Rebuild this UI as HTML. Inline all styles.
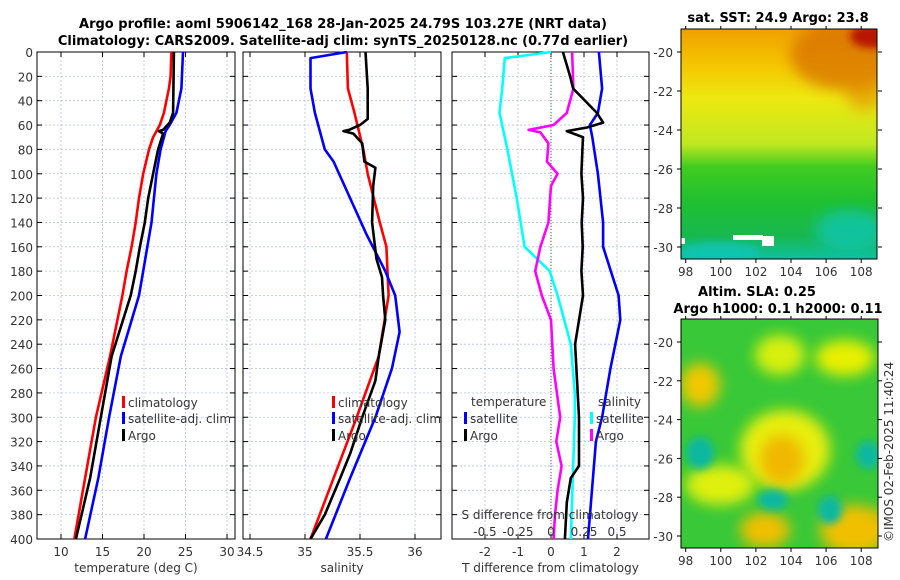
<!DOCTYPE html>
<html><head><meta charset="utf-8"><style>
body{margin:0;background:#fff;}
svg{display:block;font-family:"DejaVu Sans","Liberation Sans",sans-serif;}
.tk{font-size:12px;fill:#333;}
.tt{font-size:13px;font-weight:bold;fill:#000;}
</style></head><body>
<svg id="c" width="900" height="580" viewBox="0 0 900 580" xmlns="http://www.w3.org/2000/svg">
<defs>
<filter id="bl" x="-50%" y="-50%" width="200%" height="200%"><feGaussianBlur stdDeviation="7"/></filter>
<filter id="bl2" x="-50%" y="-50%" width="200%" height="200%"><feGaussianBlur stdDeviation="4"/></filter>
<linearGradient id="sstg" x1="0" y1="0" x2="0" y2="1">
<stop offset="0" stop-color="#f0a000"/><stop offset="0.15" stop-color="#f5c400"/><stop offset="0.3" stop-color="#eee810"/>
<stop offset="0.5" stop-color="#c0e820"/><stop offset="0.6" stop-color="#40cc20"/><stop offset="0.75" stop-color="#20c030"/>
<stop offset="0.9" stop-color="#18b850"/><stop offset="1" stop-color="#10c0a0"/></linearGradient>
<clipPath id="cm1"><rect x="681" y="29" width="196" height="230"/></clipPath>
<clipPath id="cm2"><rect x="681" y="319" width="197" height="229"/></clipPath>
</defs>
<text class="tt" x="343" y="28" text-anchor="middle">Argo profile: aoml 5906142_168 28-Jan-2025 24.79S 103.27E (NRT data)</text>
<text class="tt" x="343" y="45" text-anchor="middle">Climatology: CARS2009. Satellite-adj clim: synTS_20250128.nc (0.77d earlier)</text>
<g id="g"></g>
<!-- SST map -->
<g clip-path="url(#cm1)">
<rect x="681" y="29" width="196" height="230" fill="url(#sstg)"/>
<ellipse cx="845" cy="55" rx="55" ry="35" fill="#d87000" opacity="0.75" filter="url(#bl)"/>
<ellipse cx="872" cy="36" rx="22" ry="12" fill="#b81800" filter="url(#bl2)"/>
<ellipse cx="865" cy="90" rx="20" ry="20" fill="#e08800" opacity="0.6" filter="url(#bl)"/>
<ellipse cx="850" cy="230" rx="35" ry="20" fill="#10c8c0" opacity="0.7" filter="url(#bl)"/>
<ellipse cx="720" cy="252" rx="40" ry="10" fill="#10c8c0" opacity="0.7" filter="url(#bl2)"/>
<rect x="733" y="235" width="30" height="5" fill="#fff"/><rect x="762" y="236" width="12" height="10" fill="#fff"/>
<rect x="680" y="238" width="5" height="6" fill="#fff"/>
</g>
<rect x="681" y="29" width="196" height="230" fill="none" stroke="#000"/>
<text class="tt" x="778" y="22" text-anchor="middle">sat. SST: 24.9 Argo: 23.8</text>
<!-- SLA map -->
<g clip-path="url(#cm2)">
<rect x="681" y="319" width="197" height="229" fill="#38c838"/>
<ellipse cx="780" cy="355" rx="25" ry="20" fill="#d8f010" filter="url(#bl)"/>
<ellipse cx="845" cy="358" rx="30" ry="18" fill="#e8f000" filter="url(#bl)"/>
<ellipse cx="700" cy="385" rx="20" ry="22" fill="#f0c800" filter="url(#bl)"/>
<ellipse cx="785" cy="450" rx="45" ry="40" fill="#e8ee10" filter="url(#bl)"/>
<ellipse cx="782" cy="460" rx="22" ry="25" fill="#f0b800" filter="url(#bl)"/>
<ellipse cx="720" cy="485" rx="35" ry="20" fill="#e0f010" filter="url(#bl)"/>
<ellipse cx="765" cy="530" rx="25" ry="18" fill="#f0c000" filter="url(#bl)"/>
<ellipse cx="855" cy="530" rx="35" ry="25" fill="#f0c000" filter="url(#bl)"/>
<ellipse cx="700" cy="453" rx="14" ry="16" fill="#10b8a0" filter="url(#bl2)"/>
<ellipse cx="868" cy="455" rx="12" ry="14" fill="#10b8a0" filter="url(#bl2)"/>
<ellipse cx="773" cy="500" rx="15" ry="10" fill="#10b8a0" filter="url(#bl2)"/>
<ellipse cx="830" cy="510" rx="12" ry="14" fill="#10b8a0" filter="url(#bl2)"/>
</g>
<rect x="681" y="319" width="197" height="229" fill="none" stroke="#000"/>
<text class="tt" x="757" y="296" text-anchor="middle">Altim. SLA: 0.25</text>
<text class="tt" x="778" y="313" text-anchor="middle">Argo h1000: 0.1 h2000: 0.11</text>
<text class="tk" x="0" y="0" transform="translate(893,542) rotate(-90)">©IMOS 02-Feb-2025 11:40:24</text>
</svg>
<script>
// ---- data ----
const depthTicks=[0,20,40,60,80,100,120,140,160,180,200,220,240,260,280,300,320,340,360,380,400];
const tTicks=[10,15,20,25,30];
const sTicks=[34.5,35,35.5,36];
const dtTicks=[-2,-1,0,1,2];
const dsTicks=[-0.5,-0.25,0,0.25,0.5];
const dsTickLabels=["-0.5","-0.25","0","0.25","0.5"];
const lonTicks=[98,100,102,104,106,108];
const latTicks=[-20,-22,-24,-26,-28,-30];
const argoLon=103.27, argoLat=-24.79;

const tClimD=[0,20,30,50,60,70,80,100,120,140,160,180,200,250,300,350,400];
const tClim=[23.3,23.2,23.0,22.4,21.9,21.1,20.6,19.9,19.4,19.0,18.5,17.9,17.4,15.9,14.2,12.9,11.6];
const tSatD=[0,30,50,60,65,80,100,140,180,200,250,300,350,400];
const tSat=[24.7,24.5,23.9,23.1,22.6,22.0,21.5,20.9,19.9,19.4,17.2,15.8,14.5,12.9];
const tArgoD=[0,50,58,64,65,67,80,100,120,140,160,180,200,250,300,350,400];
const tArgo=[23.6,23.5,23.1,22.3,21.8,22.3,21.7,21.1,20.5,20.1,19.5,19.0,18.4,16.1,14.8,13.5,11.8];

const sClimD=[0,30,50,80,100,140,160,180,200,250,300,350,400];
const sClim=[35.38,35.39,35.45,35.53,35.57,35.68,35.74,35.75,35.76,35.67,35.47,35.26,35.05];
const sSatD=[0,5,30,50,80,90,120,150,180,200,230,260,300,350,400];
const sSat=[35.38,35.05,35.05,35.09,35.18,35.26,35.41,35.56,35.73,35.82,35.86,35.79,35.64,35.41,35.19];
const sArgoD=[0,30,55,60,64,65,67,75,90,95,110,140,170,185,200,220,250,270,300,330,350,380,400];
const sArgo=[35.55,35.57,35.57,35.50,35.40,35.35,35.44,35.52,35.54,35.64,35.62,35.61,35.65,35.70,35.71,35.73,35.67,35.64,35.52,35.41,35.32,35.18,35.05];

const dtSatD=[0,30,50,60,70,100,140,160,200,220,260,300,320,400];
const dtSat=[1.45,1.55,1.42,1.18,1.25,1.42,1.58,1.58,2.05,2.1,1.8,1.55,1.36,1.12];
const dtArgoD=[0,20,30,50,58,62,65,70,80,100,120,140,160,180,200,240,300,340,350,370,400];
const dtArgo=[0.36,0.58,0.67,1.39,1.58,1.09,0.48,0.97,0.95,0.92,0.97,0.93,0.96,0.92,0.97,0.73,0.85,0.85,0.6,0.48,0.42];
const dsSatD=[0,5,30,50,80,120,160,180,200,240,280,300,400];
const dsSat=[0.0,-0.35,-0.37,-0.39,-0.33,-0.26,-0.2,-0.01,0.05,0.15,0.18,0.18,0.15];
const dsArgoD=[0,30,50,60,64,66,75,90,100,110,140,160,180,200,220,260,300,320,340,360,380,400];
const dsArgo=[0.16,0.17,0.12,0.02,-0.17,-0.08,-0.02,-0.03,0.05,0.0,-0.02,-0.08,-0.12,-0.07,0.0,0.02,0.07,0.04,0.08,0.05,0.03,0.02];

// ---- scales ----
const yD=d=>52+d*1.2175;
const xT=t=>61+(t-10)*8.3;
const xS=s=>305+(s-35)*110;
const xDT=v=>551+v*33;
const xDS=v=>551+v*132;
const mLon=l=>685.7+(l-98)*17.55;
const mLat1=l=>52+(-20-l)*19.5;
const mLat2=l=>342+(-20-l)*19.4;

const NS='http://www.w3.org/2000/svg';
const G=document.getElementById('g');
function mk(tag,at,parent){const e=document.createElementNS(NS,tag);for(const k in at)e.setAttribute(k,at[k]);(parent||G).appendChild(e);return e;}
function txt(s,x,y,anchor,cls,parent){const e=mk('text',{x:x,y:y,'text-anchor':anchor,class:cls},parent);e.textContent=s;return e;}

const panels=[
 {x0:37,x1:235,ticks:tTicks,sx:xT,lab:'temperature (deg C)',name:'temperature'},
 {x0:243,x1:441,ticks:sTicks,sx:xS,lab:'salinity',name:'salinity'},
 {x0:452,x1:649,ticks:dtTicks,sx:xDT,lab:'T difference from climatology',name:'difference'}
];
panels.forEach(p=>{
  depthTicks.forEach(d=>{
    const l=mk('line',{x1:p.x0,x2:p.x1,y1:yD(d),y2:yD(d),stroke:'#b8c4e8','stroke-width':0.8,'stroke-dasharray':'2,2'});
    
    
    const a=mk('line',{x1:p.x0,x2:p.x0+5,y1:yD(d),y2:yD(d),stroke:'#000'});
    
    
    const b=mk('line',{x1:p.x1-5,x2:p.x1,y1:yD(d),y2:yD(d),stroke:'#000'});
    
    
  });
  p.ticks.forEach(t=>{
    const x=p.sx(t);
    const l=mk('line',{x1:x,x2:x,y1:52,y2:539,stroke:'#b8c4e8','stroke-width':0.8,'stroke-dasharray':'2,2'});
    
    
    const a=mk('line',{x1:x,x2:x,y1:539,y2:534,stroke:'#000'});
    
    
    const b=mk('line',{x1:x,x2:x,y1:52,y2:57,stroke:'#000'});
    
    
    const lb=txt(String(t),x,556,'middle','tk');
    
    
  });
  const fr=mk('rect',{x:p.x0,y:52,width:p.x1-p.x0,height:487,fill:'none',stroke:'#000'});
  
  
  const xl=txt(p.lab,(p.x0+p.x1)/2,572,'middle','tk');
  
  
});
depthTicks.forEach(d=>{
  const lb=txt(String(d),33,yD(d)+5,'end','tk');
  
  
});
const z=mk('line',{x1:xDT(0),x2:xDT(0),y1:52,y2:539,stroke:'#556b2f','stroke-width':1,'stroke-dasharray':'1,2'});



function line(xs,ds,sx,col,name){
  const pts=xs.map((v,i)=>sx(v).toFixed(1)+','+yD(ds[i]).toFixed(1)).join(' ');
  const e=mk('polyline',{points:pts,fill:'none',stroke:col,'stroke-width':2.6,'stroke-linejoin':'round'});
  
  
}
line(tClim,tClimD,xT,'#ff0000','temp-climatology-line');
line(tSat,tSatD,xT,'#0000ff','temp-satellite-line');
line(tArgo,tArgoD,xT,'#000','temp-argo-line');
line(sClim,sClimD,xS,'#ff0000','sal-climatology-line');
line(sSat,sSatD,xS,'#0000ff','sal-satellite-line');
line(sArgo,sArgoD,xS,'#000','sal-argo-line');
line(dsSat,dsSatD,xDS,'#00ffff','sdiff-satellite-line');
line(dsArgo,dsArgoD,xDS,'#ff00ff','sdiff-argo-line');
line(dtSat,dtSatD,xDT,'#0000ff','tdiff-satellite-line');
line(dtArgo,dtArgoD,xDT,'#000','tdiff-argo-line');

function leg(x,y,col,label){
  const b=mk('rect',{x:x,y:y-10,width:3,height:12,fill:col});
  
  
  const t=txt(label,x+6,y+1,'start','tk');
  
  
}
[[122,'#ff0000','climatology',406],[122,'#0000ff','satellite-adj. clim',422],[122,'#000','Argo',439]].forEach(a=>leg(a[0],a[3],a[1],a[2]));
[[332,'#ff0000','climatology',406],[332,'#0000ff','satellite-adj. clim',422],[332,'#000','Argo',439]].forEach(a=>leg(a[0],a[3],a[1],a[2]));
const lt=txt('temperature',471,406,'start','tk');


const ls=txt('salinity',598,406,'start','tk');


leg(464,422,'#0000ff','satellite');leg(464,439,'#000','Argo');
leg(590,422,'#00ffff','satellite');leg(590,439,'#ff00ff','Argo');
const st=txt('S difference from climatology',550,519,'middle','tk');


dsTicks.forEach((v,i)=>{
  const t=txt(dsTickLabels[i],xDS(v),536,'middle','tk');
  
  
});

function mapAxes(top,bottom,latF,name){
  lonTicks.forEach(l=>{
    const x=mLon(l);
    const a=mk('line',{x1:x,x2:x,y1:bottom,y2:bottom+4,stroke:'#000'});
    
    
    const b=mk('line',{x1:x,x2:x,y1:top,y2:top-3,stroke:'#000'});
    
    
    const t=txt(String(l),x,bottom+17,'middle','tk');
    
    
  });
  latTicks.forEach(l=>{
    const y=latF(l);
    const a=mk('line',{x1:677,x2:681,y1:y,y2:y,stroke:'#000'});
    
    
    const b=mk('line',{x1:878,x2:882,y1:y,y2:y,stroke:'#000'});
    
    
    const t=txt(String(l),673,y+5,'end','tk');
    
    
  });
}
mapAxes(29,259,mLat1,'sst-map');
mapAxes(319,548,mLat2,'sla-map');
const c1=mk('circle',{cx:mLon(argoLon),cy:mLat1(argoLat),r:5,fill:'#40cc20',stroke:'#000','stroke-width':1.2});


const c2=mk('circle',{cx:mLon(argoLon),cy:mLat2(argoLat),r:5,fill:'#b0e820',stroke:'#000','stroke-width':1.2});


</script>
</body></html>
